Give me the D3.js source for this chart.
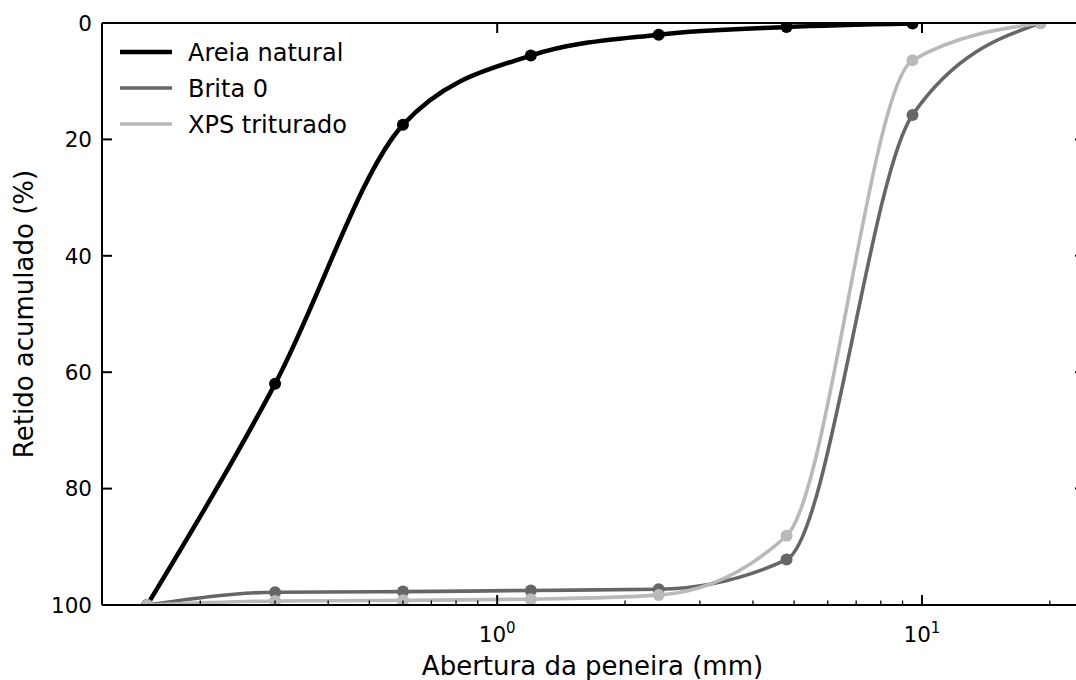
<!DOCTYPE html>
<html>
<head>
<meta charset="utf-8">
<script src="https://cdn.jsdelivr.net/npm/d3@7/dist/d3.min.js"></script>
<style>
  body { margin: 0; background: #fff; }
  svg { display: block; font-family: "DejaVu Sans", sans-serif; }
</style>
</head>
<body>
<svg id="chart" width="1076" height="680"></svg>
<script>
// sieve openings (mm)
const sieves = [0.15, 0.3, 0.6, 1.2, 2.4, 4.8, 9.5, 19];

// cumulative retained (%) per material
const areiaNatural = [100, 62, 17.5, 5.6, 2.0, 0.7, 0.1];
const brita0 = [100, 97.8, 97.7, 97.5, 97.3, 92.2, 15.8, 0];
const xpsTriturado = [100, 99.3, 99.2, 99.0, 98.3, 88.1, 6.4, 0];

const seriesNames = ['Areia natural', 'Brita 0', 'XPS triturado'];
const seriesColors = ['#000000', '#666666', '#b9b9b9'];
const yTicks = [0, 20, 40, 60, 80, 100];
const xMajor = [1, 10];

const margin = { top: 23, right: -9, bottom: 75, left: 102 };
const width = 1076 - margin.left - margin.right;
const height = 680 - margin.top - margin.bottom;

const svg = d3.select('#chart');
const g = svg.append('g').attr('transform', `translate(${margin.left},${margin.top})`);

const x = d3.scaleLog().domain([0.1174, 24.2]).range([0, width]);
const y = d3.scaleLinear().domain([0, 100]).range([0, height]);

g.append('clipPath').attr('id', 'plot-clip')
  .append('rect').attr('width', width).attr('height', height);

const data = [areiaNatural, brita0, xpsTriturado].map((vals, i) => ({
  name: seriesNames[i],
  color: seriesColors[i],
  width: i === 0 ? 4.5 : 3.6,
  points: vals.map((v, j) => ({ x: sieves[j], y: v }))
}));

const line = d3.line()
  .x(d => x(d.x))
  .y(d => y(d.y))
  .curve(d3.curveMonotoneX);

const plot = g.append('g').attr('clip-path', 'url(#plot-clip)');
const series = plot.selectAll('.series')
  .data(data)
  .enter().append('g')
  .attr('class', 'series');

series.append('path')
  .attr('fill', 'none')
  .attr('stroke', d => d.color)
  .attr('stroke-width', d => d.width)
  .attr('d', d => line(d.points));

series.selectAll('circle')
  .data(d => d.points.map(p => Object.assign({ color: d.color }, p)))
  .enter().append('circle')
  .attr('cx', d => x(d.x))
  .attr('cy', d => y(d.y))
  .attr('r', 6)
  .attr('fill', d => d.color);

// spines
function hline(yy) {
  g.append('line').attr('x1', 0).attr('x2', width).attr('y1', yy).attr('y2', yy)
    .attr('stroke', '#000').attr('stroke-width', 2);
}
function vline(xx) {
  g.append('line').attr('x1', xx).attr('x2', xx).attr('y1', 0).attr('y2', height)
    .attr('stroke', '#000').attr('stroke-width', 2);
}
hline(0); hline(height); vline(0); vline(width);

// y axis, ticks inward on both sides
const yAxis = g.append('g');
yTicks.forEach(t => {
  yAxis.append('line').attr('x1', 0).attr('x2', 10).attr('y1', y(t)).attr('y2', y(t))
    .attr('stroke', '#000').attr('stroke-width', 2);
  yAxis.append('line').attr('x1', width).attr('x2', width - 10).attr('y1', y(t)).attr('y2', y(t))
    .attr('stroke', '#000').attr('stroke-width', 2);
  yAxis.append('text')
    .attr('x', -10).attr('y', y(t)).attr('dy', '0.36em')
    .attr('text-anchor', 'end').attr('font-size', 21.5).attr('fill', '#000')
    .text(t);
});

// x axis: major + minor ticks inward on the bottom, majors only on top
const xAxis = g.append('g');
const minor = [];
[0.1, 1, 10].forEach(dec => {
  for (let k = 2; k <= 9; k++) minor.push(dec * k);
});
minor.filter(v => x(v) > 0 && x(v) < width).forEach(v => {
  xAxis.append('line').attr('x1', x(v)).attr('x2', x(v)).attr('y1', height).attr('y2', height - 4.5)
    .attr('stroke', '#000').attr('stroke-width', 1.3);
});
xMajor.forEach((v, i) => {
  xAxis.append('line').attr('x1', x(v)).attr('x2', x(v)).attr('y1', height).attr('y2', height - 10)
    .attr('stroke', '#000').attr('stroke-width', 2);
  xAxis.append('line').attr('x1', x(v)).attr('x2', x(v)).attr('y1', 0).attr('y2', 10)
    .attr('stroke', '#000').attr('stroke-width', 2);
  const lbl = xAxis.append('text')
    .attr('x', x(v)).attr('y', height + 37)
    .attr('text-anchor', 'middle').attr('font-size', 21.5).attr('fill', '#000');
  lbl.append('tspan').text('10');
  lbl.append('tspan').attr('dy', -9).attr('font-size', 15).text(i);
});

// axis titles
g.append('text')
  .attr('x', (x(0.1174) + x(24.2)) / 2 - 1).attr('y', height + 70)
  .attr('text-anchor', 'middle').attr('font-size', 26).attr('fill', '#000')
  .text('Abertura da peneira (mm)');
g.append('text')
  .attr('transform', `translate(${-69},${height / 2}) rotate(-90)`)
  .attr('text-anchor', 'middle').attr('font-size', 26).attr('fill', '#000')
  .text('Retido acumulado (%)');

// legend
const legend = g.append('g').attr('transform', 'translate(18,29)');
data.forEach((d, i) => {
  const row = legend.append('g').attr('transform', `translate(0,${i * 36})`);
  row.append('line').attr('x1', 0).attr('x2', 52).attr('y1', 0).attr('y2', 0)
    .attr('stroke', d.color).attr('stroke-width', d.width);
  row.append('text').attr('x', 68).attr('y', 0).attr('dy', '0.36em')
    .attr('font-size', 24).attr('fill', '#000').text(d.name);
});
</script>
</body>
</html>
